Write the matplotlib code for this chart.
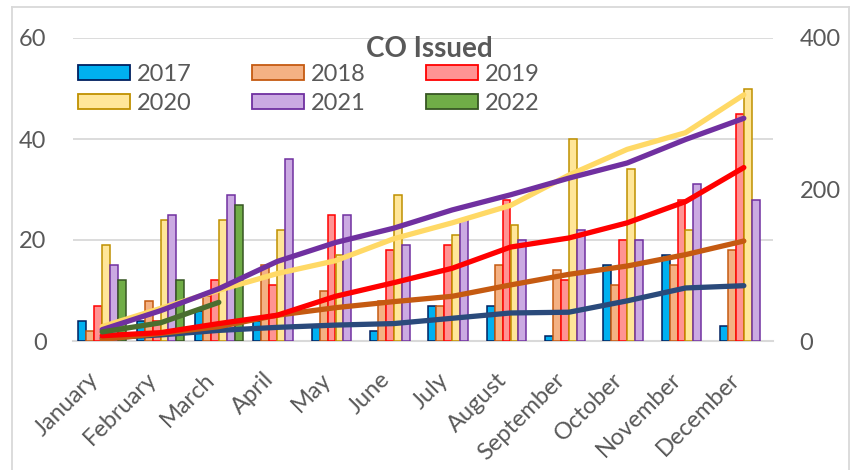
import matplotlib
matplotlib.use("Agg")
import matplotlib.pyplot as plt
import numpy as np
from matplotlib.patches import Patch
from matplotlib.lines import Line2D

plt.rcParams["font.family"] = ["Lato", "DejaVu Sans"]

months = ["January", "February", "March", "April", "May", "June", "July",
          "August", "September", "October", "November", "December"]
years = ["2017", "2018", "2019", "2020", "2021", "2022"]

# Monthly CO counts per year
co_2017 = [4, 4, 6, 4, 3, 2, 7, 7, 1, 15, 17, 3]
co_2018 = [2, 8, 9, 15, 10, 8, 7, 15, 14, 11, 15, 18]
co_2019 = [7, 4, 12, 11, 25, 18, 19, 28, 12, 20, 28, 45]
co_2020 = [19, 24, 24, 22, 17, 29, 21, 23, 40, 34, 22, 50]
co_2021 = [15, 25, 29, 36, 25, 19, 24, 20, 22, 20, 31, 28]
co_2022 = [12, 12, 27]

series = [co_2017, co_2018, co_2019, co_2020, co_2021, co_2022]
bar_fill = ["#00B0F0", "#F4B183", "#FF9393", "#FFE699", "#CBAAE2", "#70AD47"]
bar_edge = ["#002060", "#C55A11", "#FF0000", "#BF9000", "#7030A0", "#375623"]
line_col = ["#2A4A7B", "#C55A11", "#FF0000", "#FFD966", "#7030A0", "#4A6E2F"]

W, H = 858, 470
TXT = "#595959"
GRID = "#D9D9D9"

fig = plt.figure(figsize=(W / 100, H / 100), dpi=100)
ax = fig.add_axes([73 / W, 1 - 341 / H, 700 / W, 303 / H])
ax2 = ax.twinx()

x = np.arange(len(months))
group = 0.82
bw = group / len(series)

for i, vals in enumerate(series):
    xs = x[:len(vals)] - group / 2 + bw * (i + 0.5)
    ax.bar(xs, vals, width=bw, color=bar_fill[i], edgecolor=bar_edge[i],
           linewidth=1.1, zorder=3)

# Running totals on the secondary axis
for i, vals in enumerate(series):
    ax2.plot(x[:len(vals)], np.cumsum(vals), color=line_col[i], lw=3.8,
             solid_capstyle="round", solid_joinstyle="round", zorder=4)

ax.set_xlim(-0.5, 11.5)
ax.set_ylim(0, 60)
ax2.set_ylim(0, 400)
ax.set_yticks([0, 20, 40, 60])
ax2.set_yticks([0, 200, 400])
ax.set_axisbelow(True)
ax.grid(axis="y", color=GRID, lw=1.3)
ax.grid(axis="x", visible=False)

for a in (ax, ax2):
    for s in a.spines.values():
        s.set_visible(False)
ax.spines["bottom"].set_visible(True)
ax.spines["bottom"].set_color(GRID)
ax.spines["bottom"].set_linewidth(1.5)

ax.set_xticks(x)
ax.set_xticklabels(months, rotation=45, ha="right", va="top")
ax.tick_params(axis="x", length=0, pad=20, labelsize=17, labelcolor=TXT)
ax.tick_params(axis="y", length=0, pad=19, labelsize=17, labelcolor=TXT)
ax2.tick_params(axis="y", length=0, pad=19, labelsize=17, labelcolor=TXT)

# Legend laid out row by row (2017 2018 2019 / 2020 2021 2022)
handles = [Patch(facecolor=bar_fill[i], edgecolor=bar_edge[i], linewidth=1.3,
                 label=years[i]) for i in range(len(years))]
order = [0, 3, 1, 4, 2, 5]
fig.legend([handles[i] for i in order], [years[i] for i in order],
           ncol=3, loc="upper left", bbox_to_anchor=(78 / W, 1 - 64 / H),
           frameon=False, fontsize=17, labelcolor=TXT, handlelength=2.2,
           handleheight=0.6, handletextpad=0.3, columnspacing=2.55,
           labelspacing=0.32, borderpad=0, borderaxespad=0)

fig.text(429 / W, 1 - 49 / H, "CO Issued", ha="center", va="center",
         fontsize=20, fontweight="bold", color=TXT)

# Chart area frame
for xs_, ys_ in [([12, 12], [470, 7]), ([12, 849], [7, 7]), ([849, 849], [7, 470])]:
    fig.add_artist(Line2D([v / W for v in xs_], [1 - v / H for v in ys_],
                          transform=fig.transFigure, color=GRID, lw=1.3))

fig.savefig("out.png", dpi=100)
